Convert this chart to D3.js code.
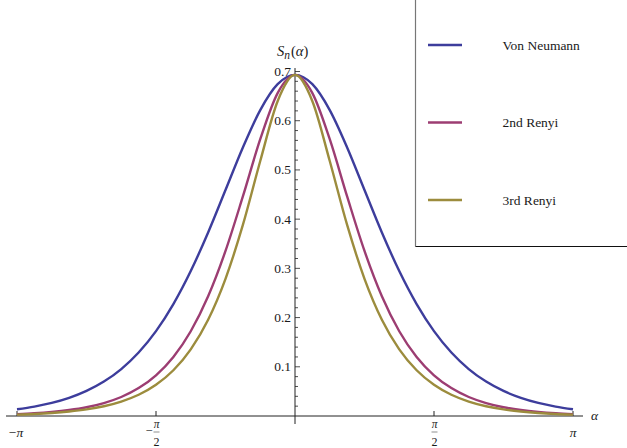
<!DOCTYPE html>
<html>
<head>
<meta charset="utf-8">
<script src="https://cdn.jsdelivr.net/npm/d3@7"></script>
<style>
  body { margin: 0; background: #fff; }
  svg { display: block; }
  text { font-family: "Liberation Serif", "DejaVu Serif", serif; fill: #1a1a1a; }
</style>
</head>
<body>
<div id="chart"></div>
<script>
// alpha samples at k*pi/16, k = -16..16
const alphaK = d3.range(-16, 17);

// (symmetric around alpha = 0)
const vonNeumann = [0.0136, 0.0190, 0.0265, 0.0368, 0.0509, 0.0699, 0.0954, 0.1290, 0.1724, 0.2274, 0.2945, 0.3730, 0.4592, 0.5457, 0.6216, 0.6742, 0.6931,
                    0.6742, 0.6216, 0.5457, 0.4592, 0.3730, 0.2945, 0.2274, 0.1724, 0.1290, 0.0954, 0.0699, 0.0509, 0.0368, 0.0265, 0.0190, 0.0136];
const renyi2 = [0.0037, 0.0055, 0.0082, 0.0121, 0.0178, 0.0263, 0.0386, 0.0567, 0.0827, 0.1200, 0.1722, 0.2432, 0.3354, 0.4462, 0.5624, 0.6562, 0.6931,
                0.6562, 0.5624, 0.4462, 0.3354, 0.2432, 0.1722, 0.1200, 0.0827, 0.0567, 0.0386, 0.0263, 0.0178, 0.0121, 0.0082, 0.0055, 0.0037];
const renyi3 = [0.0028, 0.0041, 0.0061, 0.0091, 0.0134, 0.0198, 0.0293, 0.0431, 0.0634, 0.0929, 0.1354, 0.1956, 0.2788, 0.3882, 0.5182, 0.6397, 0.6931,
                0.6397, 0.5182, 0.3882, 0.2788, 0.1956, 0.1354, 0.0929, 0.0634, 0.0431, 0.0293, 0.0198, 0.0134, 0.0091, 0.0061, 0.0041, 0.0028];

const seriesNames = ["Von Neumann", "2nd Renyi", "3rd Renyi"];
const seriesColors = ["#3d3d9c", "#9c3d72", "#9c8c3d"];

const yTicks = [0.1, 0.2, 0.3, 0.4, 0.5, 0.6, 0.7];
const xTicks = [-Math.PI, -Math.PI / 2, Math.PI / 2, Math.PI];
const xTickLabels = [{sign: "\u2212", num: "\u03c0", den: null},
                     {sign: "\u2212", num: "\u03c0", den: "2"},
                     {sign: "", num: "\u03c0", den: "2"},
                     {sign: "", num: "\u03c0", den: null}];

const W = 627, H = 448;
const x = d3.scaleLinear().domain([-Math.PI, Math.PI]).range([17, 573]);
const y = d3.scaleLinear().domain([0, 0.7]).range([416, 71.5]);

const svg = d3.select("#chart").append("svg")
    .attr("width", W)
    .attr("height", H);

const axisColor = "#222";

// x axis
svg.append("line")
    .attr("x1", 6).attr("x2", 583)
    .attr("y1", y(0)).attr("y2", y(0))
    .attr("stroke", axisColor).attr("stroke-width", 1);

svg.selectAll(".xtick")
    .data(xTicks)
    .enter().append("line")
    .attr("class", "xtick")
    .attr("x1", d => x(d)).attr("x2", d => x(d))
    .attr("y1", y(0)).attr("y2", y(0) - 5)
    .attr("stroke", axisColor);

const xl = svg.selectAll(".xlab")
    .data(xTicks.map((v, i) => ({v, l: xTickLabels[i]})))
    .enter().append("g")
    .attr("class", "xlab")
    .attr("transform", d => `translate(${x(d.v)},0)`);

xl.each(function(d) {
    const g = d3.select(this);
    if (!d.l.den) {
        g.append("text")
            .attr("x", d.l.sign ? -1 : 0).attr("y", 437)
            .attr("text-anchor", "middle")
            .attr("font-size", 13.5)
            .html(d.l.sign + `<tspan font-style="italic">${d.l.num}</tspan>`);
    } else {
        g.append("text")
            .attr("x", 0.5).attr("y", 428)
            .attr("text-anchor", "middle")
            .attr("font-size", 11.5)
            .attr("font-style", "italic")
            .text(d.l.num);
        g.append("line")
            .attr("x1", -2.5).attr("x2", 3.5)
            .attr("y1", 432).attr("y2", 432)
            .attr("stroke", "#444").attr("stroke-width", 0.6);
        g.append("text")
            .attr("x", 0.5).attr("y", 446)
            .attr("text-anchor", "middle")
            .attr("font-size", 12)
            .text(d.l.den);
        if (d.l.sign) {
            g.append("text")
                .attr("x", -3.5).attr("y", 435)
                .attr("text-anchor", "end")
                .attr("font-size", 12.5)
                .text(d.l.sign);
        }
    }
});

svg.append("text")
    .attr("x", 591).attr("y", 420)
    .attr("font-size", 13.5)
    .attr("font-style", "italic")
    .text("\u03b1");

// y axis
const x0 = x(0);
svg.append("line")
    .attr("x1", x0).attr("x2", x0)
    .attr("y1", y(0.707)).attr("y2", y(0) + 8)
    .attr("stroke", axisColor).attr("stroke-width", 1);

const minorTicks = d3.range(1, 36).map(i => i * 0.02).filter(v => v <= 0.705);
svg.selectAll(".ymin")
    .data(minorTicks)
    .enter().append("line")
    .attr("x1", x0).attr("x2", d => x0 + (Math.abs(d * 10 - Math.round(d * 10)) < 1e-6 ? 5 : 3))
    .attr("y1", d => y(d)).attr("y2", d => y(d))
    .attr("stroke", axisColor).attr("stroke-width", 0.8);

svg.selectAll(".ylab")
    .data(yTicks)
    .enter().append("text")
    .attr("x", x0 - 4).attr("y", d => y(d) + 4.5)
    .attr("text-anchor", "end")
    .attr("font-size", 13.5)
    .text(d => d3.format(".1f")(d));

svg.append("text")
    .attr("x", 277).attr("y", 56)
    .attr("font-size", 14.5)
    .html('<tspan font-style="italic">S</tspan><tspan font-style="italic" font-size="11.5" dy="3">n</tspan><tspan dy="-3" dx="1">(</tspan><tspan font-style="italic">\u03b1</tspan>)');

// curves
const line = d3.line()
    .x((d, i) => x(alphaK[i] * Math.PI / 16))
    .y(d => y(d))
    .curve(d3.curveMonotoneX);

[vonNeumann, renyi2, renyi3].forEach((s, i) => {
    svg.append("path")
        .attr("d", line(s))
        .attr("fill", "none")
        .attr("stroke", seriesColors[i])
        .attr("stroke-width", 2.4);
});

// legend box
svg.append("rect")
    .attr("x", 415.5).attr("y", -2)
    .attr("width", 214).attr("height", 248.5)
    .attr("fill", "#fff")
    .attr("stroke", "none");
svg.append("line")
    .attr("x1", 415.5).attr("x2", 415.5).attr("y1", -2).attr("y2", 246.5)
    .attr("stroke", "#777").attr("stroke-width", 1.2);
svg.append("line")
    .attr("x1", 415.5).attr("x2", 627).attr("y1", 246.5).attr("y2", 246.5)
    .attr("stroke", "#111").attr("stroke-width", 1.2);

const legendY = [45, 122.5, 200];
const lg = svg.selectAll(".leg")
    .data(seriesNames)
    .enter().append("g")
    .attr("class", "leg")
    .attr("transform", (d, i) => `translate(0,${legendY[i]})`);
lg.append("line")
    .attr("x1", 428).attr("x2", 462)
    .attr("y1", 0).attr("y2", 0)
    .attr("stroke", (d, i) => seriesColors[i])
    .attr("stroke-width", 2.6);
lg.append("text")
    .attr("x", 502.5).attr("y", 4.5)
    .attr("font-size", 13.5)
    .text(d => d);
</script>
</body>
</html>
